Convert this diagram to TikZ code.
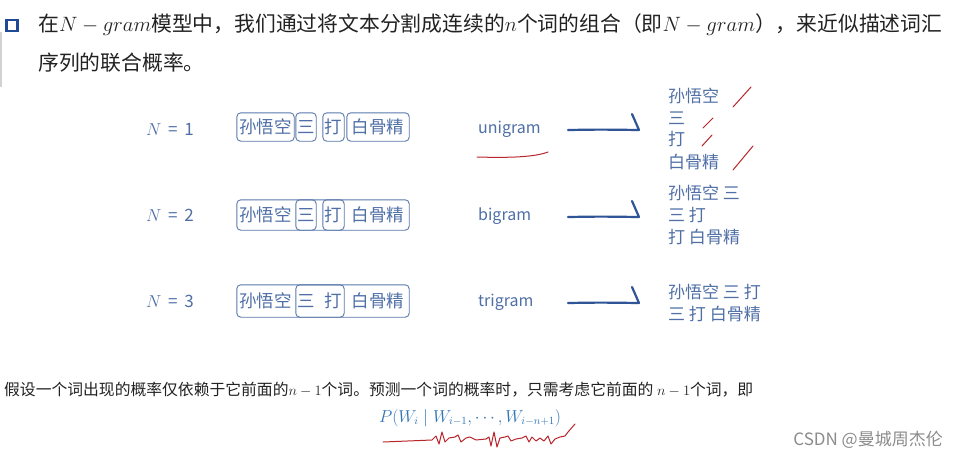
\documentclass[tikz,border=0pt]{standalone}
\usepackage{fontspec}
\setmainfont{Noto Sans CJK SC}
\usetikzlibrary{fit}
\definecolor{headtxt}{HTML}{222222}
\definecolor{bulletblue}{HTML}{1F4A96}
\definecolor{rowblue}{HTML}{4F6FA6}
\definecolor{boxblue}{HTML}{5A78AC}
\definecolor{arrowblue}{HTML}{2F5597}
\definecolor{markred}{HTML}{B8262B}
\definecolor{formblue}{HTML}{2E75B6}
\definecolor{wmgray}{HTML}{8C8C8C}
\begin{document}
\begin{tikzpicture}[x=1pt,y=-1pt,
  word/.style={inner sep=0pt, minimum height=28pt, text=rowblue, font=\fontsize{17.5}{20}\selectfont},
  wbox/.style={draw=boxblue, line width=0.9pt, rounded corners=4pt, inner sep=0pt},
  nlab/.style={text=rowblue, font=\fontsize{17}{20}\selectfont, inner sep=0pt},
  gram/.style={text=rowblue, font=\fontsize{16}{19}\selectfont, anchor=west, inner sep=0pt},
  outtxt/.style={text=rowblue, font=\fontsize{17}{20}\selectfont, anchor=west, inner sep=0pt},
  hook/.style={draw=arrowblue, line width=2.2pt, line cap=round, line join=round},
  redmark/.style={draw=markred, line width=1pt, line cap=round, line join=round}]
\useasboundingbox (0,0) rectangle (959,458);
\fill[white] (0,0) rectangle (959,458);

% header
\draw[gray!35, line width=1.5pt] (1,32) -- (1,87);
\node[draw=bulletblue, line width=2.4pt, minimum size=11pt, inner sep=0pt] (bullet) at (12,25.5) {};
\node[anchor=west, inner sep=0pt, text=headtxt, font=\fontsize{20.8}{24}\selectfont] (h1) at (38,25)
  {在$N-gram$模型中，我们通过将文本分割成连续的$n$个词的组合（即$N-gram$），来近似描述词汇};
\node[anchor=west, inner sep=0pt, text=headtxt, font=\fontsize{20.8}{24}\selectfont] (h2) at (38,63)
  {序列的联合概率。};

% N labels
\node[nlab] (n1) at (170,129) {$N$\, = \,1};
\node[nlab] (n2) at (170,215) {$N$\, = \,2};
\node[nlab] (n3) at (170,301) {$N$\, = \,3};

% row 1 (unigram)
\node[word, minimum width=57pt] (w11) at (265.5,127) {孙悟空};
\node[word, minimum width=20pt] (w12) at (306,127) {三};
\node[word, minimum width=21pt] (w13) at (333.5,127) {打};
\node[word, minimum width=62pt] (w14) at (378,127) {白骨精};
\node[wbox, fit=(w11)] (b11) {};
\node[wbox, fit=(w12)] (b12) {};
\node[wbox, fit=(w13)] (b13) {};
\node[wbox, fit=(w14)] (b14) {};

% row 2 (bigram)
\node[word, minimum width=57pt] (w21) at (265.5,215) {孙悟空};
\node[word, minimum width=20pt] (w22) at (306,215) {三};
\node[word, minimum width=21pt] (w23) at (333.5,215) {打};
\node[word, minimum width=62pt] (w24) at (378,215) {白骨精};
\node[wbox, inner ysep=1pt, fit=(w21)(w22)] (b21) {};
\node[wbox, inner ysep=1pt, fit=(w22)(w23)] (b22) {};
\node[wbox, inner ysep=1pt, fit=(w23)(w24)] (b23) {};

% row 3 (trigram)
\node[word, minimum width=57pt] (w31) at (265.5,301) {孙悟空};
\node[word, minimum width=20pt] (w32) at (306,301) {三};
\node[word, minimum width=21pt] (w33) at (333.5,301) {打};
\node[word, minimum width=62pt] (w34) at (378,301) {白骨精};
\node[wbox, inner ysep=2pt, fit=(w31)(w32)(w33)] (b31) {};
\node[wbox, inner ysep=2pt, fit=(w32)(w33)(w34)] (b32) {};

% gram names
\node[gram] (g1) at (478,129) {unigram};
\node[gram] (g2) at (478,216) {bigram};
\node[gram] (g3) at (478,302) {trigram};

% hooks
\coordinate (a1s) at (568,130); \coordinate (a1e) at (639,130); \coordinate (a1t) at (632,114);
\coordinate (a2s) at (568,217); \coordinate (a2e) at (639,217); \coordinate (a2t) at (632,201);
\coordinate (a3s) at (568,303); \coordinate (a3e) at (639,303); \coordinate (a3t) at (632,287);
\draw[hook] (a1s) .. controls (600,129.5) .. (a1e) -- (a1t);
\draw[hook] (a2s) .. controls (600,216.5) .. (a2e) -- (a2t);
\draw[hook] (a3s) .. controls (600,302.5) .. (a3e) -- (a3t);

% outputs
\node[outtxt] (o11) at (668,96) {孙悟空};
\node[outtxt] (o12) at (668,118) {三};
\node[outtxt] (o13) at (668,139) {打};
\node[outtxt] (o14) at (668,162) {白骨精};
\node[outtxt] (o21) at (668,193) {孙悟空 三};
\node[outtxt] (o22) at (668,215) {三 打};
\node[outtxt] (o23) at (668,237) {打 白骨精};
\node[outtxt] (o31) at (668,292) {孙悟空 三 打};
\node[outtxt] (o32) at (668,314) {三 打 白骨精};

% red marks
\draw[redmark] (733,107) -- (751,87);
\draw[redmark] (703,128) -- (713,118);
\draw[redmark] (702,146) -- (712,135);
\draw[redmark] (733,170) -- (753,146);
\draw[redmark] (477,157) .. controls (510,158) and (535,157) .. (548,152);

% bottom
\node[anchor=west, inner sep=0pt, text=headtxt, font=\fontsize{15.8}{19}\selectfont] (t1) at (4,390)
  {假设一个词出现的概率仅依赖于它前面的$n-1$个词。预测一个词的概率时，只需考虑它前面的 $n-1$个词，即};
\node[inner sep=0pt, text=formblue, font=\fontsize{16}{19}\selectfont] (f1) at (470,418)
  {$P(W_i \mid W_{i-1},\cdots,W_{i-n+1})$};
\draw[redmark] (383,442) -- (432,440) -- (436,436) -- (439,444) -- (442,432) -- (445,442) -- (449,438)
  -- (455,437) -- (458,435) -- (461,442) -- (466,438) -- (470,437) -- (476,440) -- (486,439)
  -- (489,437) -- (491,446) -- (494,432) -- (497,447) -- (500,438) -- (505,437) -- (508,436)
  -- (511,441) -- (516,439) -- (522,438) -- (526,436) -- (529,442) -- (532,437) -- (536,441)
  -- (540,438) -- (544,441) -- (548,436) -- (551,444) -- (555,439) -- (560,437) -- (565,436)
  -- (568,432) -- (575,424);

\node[anchor=east, inner sep=0pt, text=wmgray, font=\fontsize{17}{20}\selectfont] (wm) at (943,440)
  {CSDN @曼城周杰伦};
\end{tikzpicture}
\end{document}
